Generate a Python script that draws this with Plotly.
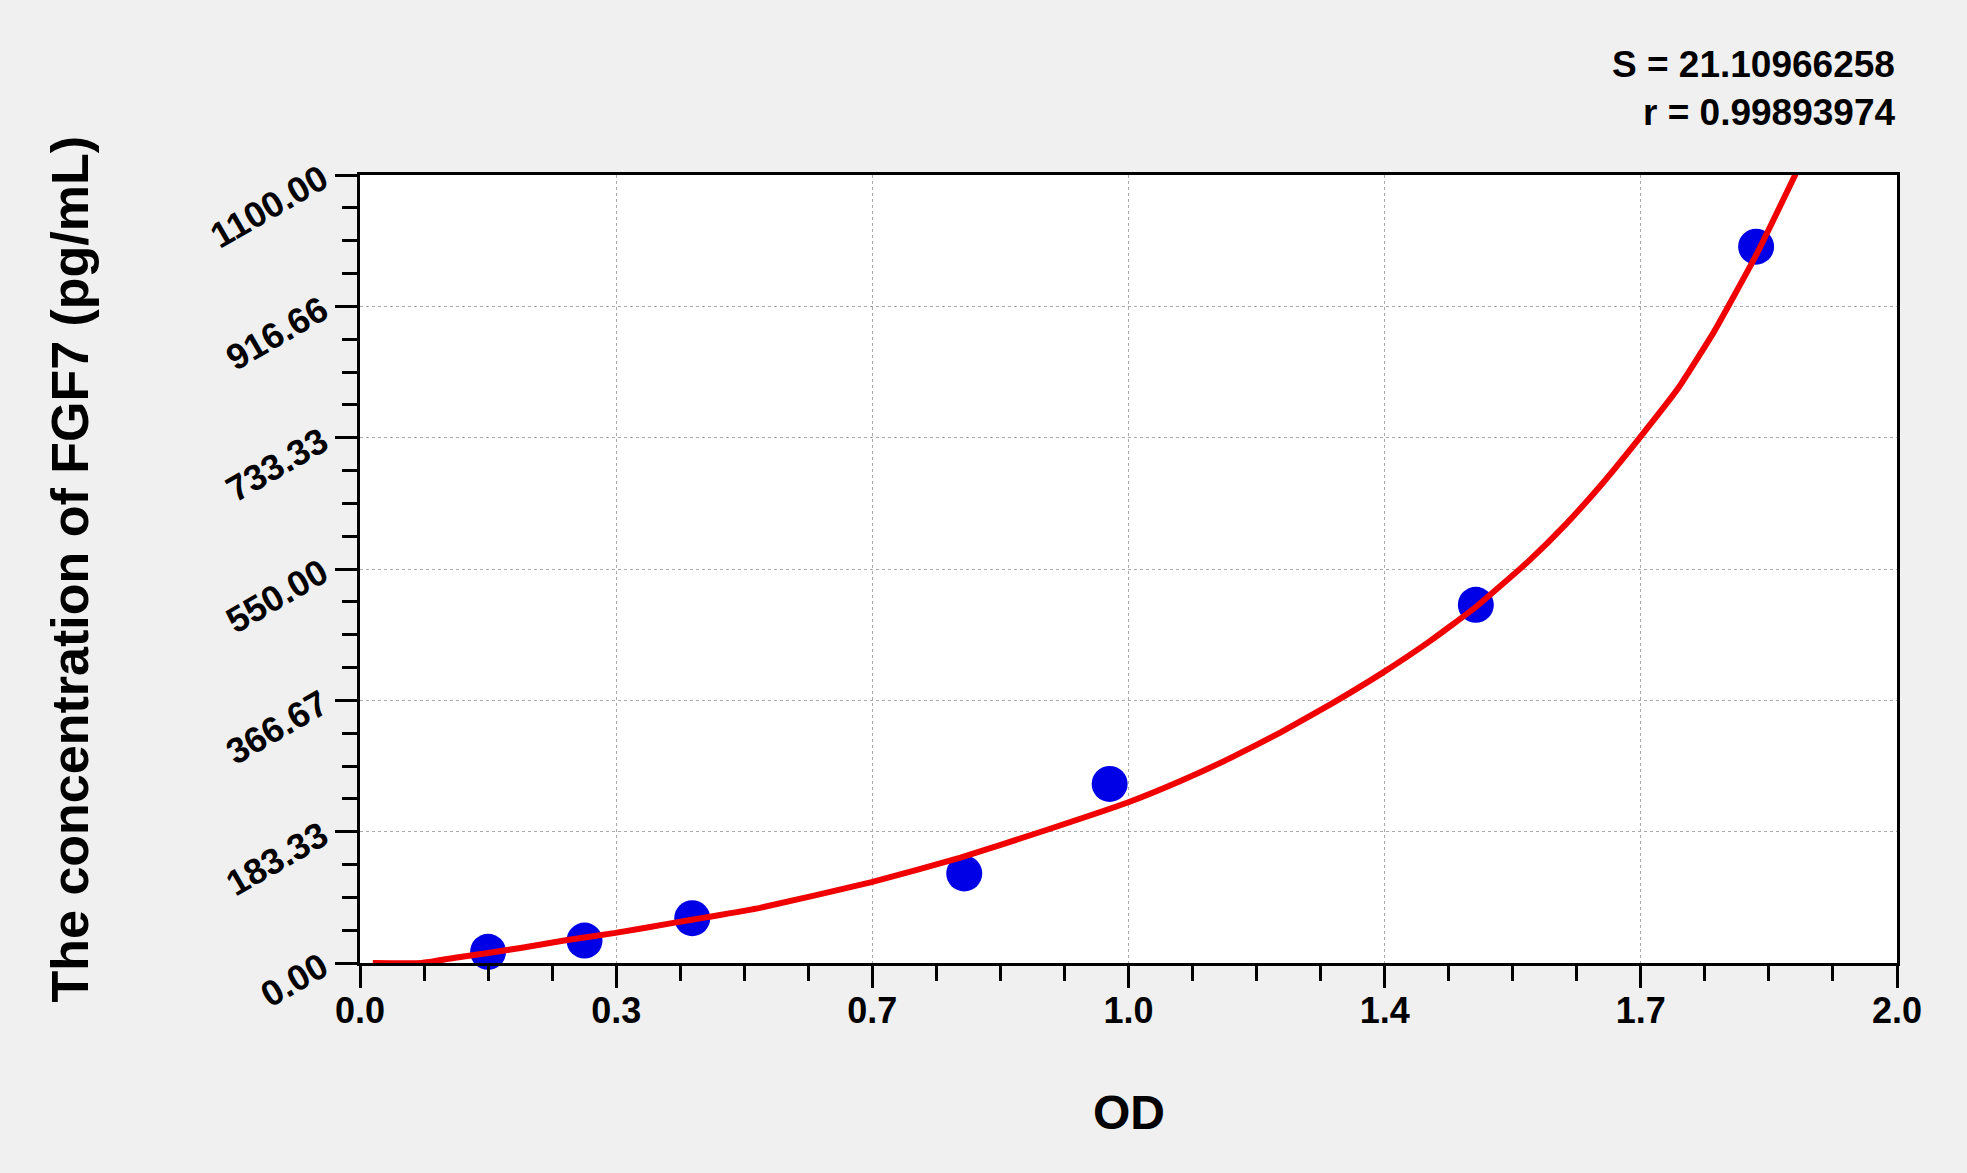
import plotly.graph_objects as go

# --- data ------------------------------------------------------------------
std_od = [0.170, 0.298, 0.441, 0.802, 0.995, 1.481, 1.853]
std_conc = [15.6, 31.25, 62.5, 125, 250, 500, 1000]

fit_od = [0.017, 0.082, 0.124, 0.170, 0.213, 0.275, 0.339, 0.416, 0.461, 0.531,
          0.679, 0.797, 0.912, 1.019, 1.089, 1.155, 1.222, 1.288, 1.357, 1.421,
          1.481, 1.550, 1.600, 1.647, 1.696, 1.750, 1.797, 1.853, 1.908]
fit_conc = [0, 0, 7, 14, 21, 32, 42, 56, 64, 77,
            113, 147, 186, 224, 254, 286, 322, 361, 405, 450,
            497, 560, 612, 667, 730, 803, 881, 988, 1107]

x_ticktext = ["0.0", "0.3", "0.7", "1.0", "1.4", "1.7", "2.0"]
y_ticktext = ["0.00", "183.33", "366.67", "550.00", "733.33", "916.66", "1100.00"]
fit_stats = ["S = 21.10966258", "r = 0.99893974"]

X_MAX = 2.04
Y_MAX = 1100.0

INK = "#000000"
BG = "#f0f0f0"
GRID = "#aaaaaa"
BLUE = "#0000e6"
RED = "#f00000"
FONT = "Liberation Sans, Arial, sans-serif"

fig = go.Figure()

# standards first so the fitted curve sits on top of them
fig.add_trace(go.Scatter(
    x=std_od, y=std_conc, mode="markers",
    marker=dict(size=36, color=BLUE, line=dict(width=0)),
    cliponaxis=False, hoverinfo="skip"))
fig.add_trace(go.Scatter(
    x=fit_od, y=fit_conc, mode="lines",
    line=dict(color=RED, width=6, shape="spline", smoothing=0.4),
    hoverinfo="skip"))

n = len(x_ticktext) - 1
axis_common = dict(
    showline=True, linecolor=INK, linewidth=3, mirror=True,
    ticks="outside", ticklen=22, tickwidth=3, tickcolor=INK,
    showgrid=True, gridcolor=GRID, gridwidth=1, griddash="3px,3px",
    zeroline=False,
)
fig.update_xaxes(
    range=[0, X_MAX], tickmode="array",
    tickvals=[X_MAX * i / n for i in range(n + 1)], ticktext=x_ticktext,
    minor=dict(dtick=X_MAX / (n * 4), tick0=0, ticklen=15, tickwidth=3,
               tickcolor=INK, ticks="outside", showgrid=False),
    tickfont=dict(family=FONT, size=36, color=INK, weight="bold"),
    ticklabelstandoff=-8,
    **axis_common)
fig.update_yaxes(
    range=[0, Y_MAX], tickmode="array",
    tickvals=[Y_MAX * i / n for i in range(n + 1)], ticktext=y_ticktext,
    minor=dict(dtick=Y_MAX / (n * 4), tick0=0, ticklen=15, tickwidth=3,
               tickcolor=INK, ticks="outside", showgrid=False),
    tickfont=dict(family=FONT, size=36, color=INK, weight="bold"),
    tickangle=-30, ticklabelstandoff=6,
    **axis_common)

# axis titles as annotations so they land where the reference has them
fig.add_annotation(text="<b>OD</b>", xref="paper", yref="paper",
                   x=0.5, y=-0.19, xanchor="center", yanchor="middle",
                   showarrow=False, font=dict(family=FONT, size=48, color=INK))
fig.add_annotation(text="<b>The concentration of FGF7 (pg/mL)</b>",
                   xref="paper", yref="paper", x=-0.189, y=0.5, textangle=-90,
                   xanchor="center", yanchor="middle", showarrow=False,
                   font=dict(family=FONT, size=52, color=INK))

# fit statistics, top right
for txt, yy in zip(fit_stats, [1.1396, 1.0787]):
    fig.add_annotation(text=f"<b>{txt}</b>", xref="paper", yref="paper",
                       x=1.0, y=yy, xanchor="right", yanchor="middle",
                       showarrow=False, font=dict(family=FONT, size=37, color=INK))

fig.update_layout(
    width=1967, height=1173,
    paper_bgcolor=BG, plot_bgcolor="#ffffff",
    showlegend=False,
    margin=dict(l=360, r=70, t=175, b=210),
)

fig.write_html("out.html", config={"displayModeBar": False},
               post_script="document.body.style.margin='0';"
                           "document.body.style.background='#f0f0f0';")
